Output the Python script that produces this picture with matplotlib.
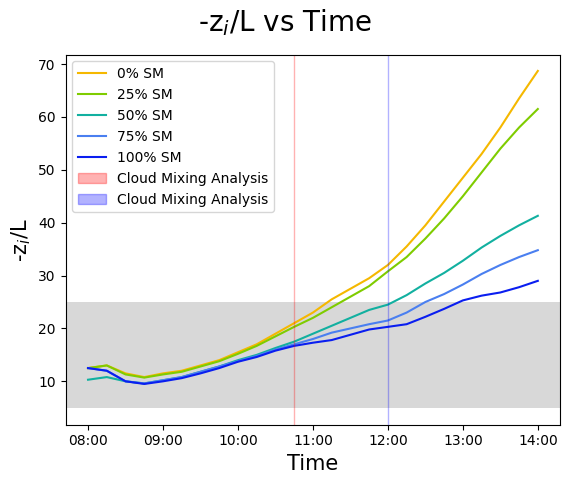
import numpy as np
import pandas as pd
import matplotlib
matplotlib.use("Agg")
import matplotlib.pyplot as plt
import matplotlib.dates as mdates
from matplotlib.patches import Patch

times = pd.date_range("2020-01-01 08:00", "2020-01-01 14:00", freq="15min")
sm_labels = ["0% SM", "25% SM", "50% SM", "75% SM", "100% SM"]
sm_colors = ["#f5b800", "#7fcc00", "#12b0a0", "#4a7ff0", "#0a1ef0"]
zi_L = [
    [12.5, 13, 11.5, 10.8, 11.5, 12, 13, 14, 15.5, 17, 19, 21, 23, 25.5, 27.5, 29.5, 32, 35.5, 39.5, 44, 48.5, 53, 58, 63.5, 68.7],
    [12.5, 13, 11.3, 10.7, 11.3, 11.8, 12.8, 13.8, 15.2, 16.7, 18.5, 20.3, 22, 24, 26, 28, 30.8, 33.5, 37, 40.8, 45, 49.5, 54, 58, 61.5],
    [10.3, 10.8, 10, 9.6, 10.2, 10.8, 11.8, 12.8, 14, 15, 16.3, 17.5, 19, 20.5, 22, 23.5, 24.5, 26.3, 28.5, 30.5, 32.8, 35.3, 37.5, 39.5, 41.3],
    [12.5, 12, 10, 9.6, 10.2, 10.8, 11.8, 12.8, 13.8, 14.8, 16, 17, 18, 19.2, 20, 20.8, 21.5, 23, 25, 26.5, 28.3, 30.3, 32, 33.5, 34.8],
    [12.5, 12, 10, 9.5, 10, 10.6, 11.5, 12.5, 13.7, 14.6, 15.8, 16.7, 17.3, 17.8, 18.8, 19.8, 20.3, 20.8, 22.2, 23.7, 25.3, 26.2, 26.8, 27.8, 29],
]
mix_times = [pd.Timestamp("2020-01-01 10:45"), pd.Timestamp("2020-01-01 12:00")]
band = (5, 25)

fig = plt.figure(figsize=(5.7, 4.87), dpi=100)
ax = fig.add_axes([0.115, 0.128, 0.868, 0.76])
ax.axhspan(band[0], band[1], color="grey", alpha=0.3, lw=0)
for y, lab, c in zip(zi_L, sm_labels, sm_colors):
    ax.plot(times, y, color=c, lw=1.5, label=lab)
ax.axvline(mix_times[0], color="red", alpha=0.3, lw=1)
ax.axvline(mix_times[1], color="blue", alpha=0.3, lw=1)

handles, labels = ax.get_legend_handles_labels()
handles += [Patch(facecolor="red", edgecolor="red", alpha=0.3),
            Patch(facecolor="blue", edgecolor="blue", alpha=0.3)]
labels += ["Cloud Mixing Analysis", "Cloud Mixing Analysis"]
ax.legend(handles, labels, loc="upper left")

ax.xaxis.set_major_locator(mdates.HourLocator())
ax.xaxis.set_major_formatter(mdates.DateFormatter("%H:%M"))
ax.set_xlim(pd.Timestamp("2020-01-01 07:42"), pd.Timestamp("2020-01-01 14:18"))
ax.set_ylim(1.8, 71.8)
ax.set_xlabel("Time", fontsize=15)
ax.set_ylabel("-z$_i$/L", fontsize=15)
fig.suptitle("-z$_i$/L vs Time", fontsize=20, y=0.985)
fig.savefig("out.png", dpi=100)
